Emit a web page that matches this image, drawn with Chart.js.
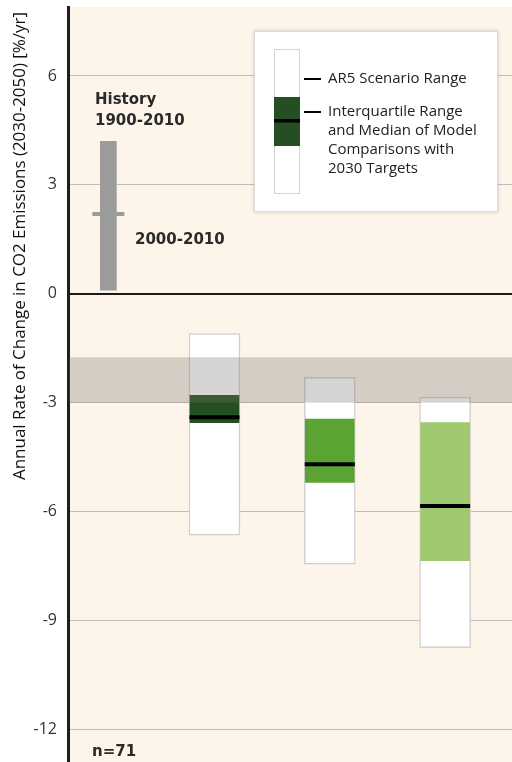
<!DOCTYPE html>
<html>
<head>
<meta charset="utf-8">
<script src="https://cdn.jsdelivr.net/npm/chart.js@4/dist/chart.umd.min.js"></script>
<style>
  html, body { margin: 0; padding: 0; background: #ffffff; }
  #c { display: block; }
</style>
</head>
<body>
<canvas id="c" width="512" height="762"></canvas>
<script>
// Annual rate of change in CO2 emissions, 2030-2050 [%/yr]

// Historical growth range 1900-2010 and the 2000-2010 rate
const historyRange = [0.1, 4.2];
const historyRecent = 2.2;

// Three groups of scenarios: full AR5 range, interquartile range and median
const groups = ['group1', 'group2', 'group3'];
const scenarioRanges = [[-6.65, -1.1], [-7.45, -2.3], [-9.75, -2.85]];
const iqrRanges = [[-3.55, -2.8], [-5.2, -3.45], [-7.35, -3.55]];
const medians = [-3.4, -4.7, -5.85];

// Shaded band across the plot
const bandRange = [-3.0, -1.75];

// Axis ticks and sample size
const yTicks = [-12, -9, -6, -3, 0, 3, 6];
const sampleSize = 71;

// ---- layout ----
const slotX = [0.35, 1.27, 2.27, 3.27];     // history, then one slot per group
const iqrColors = ['#234f22', '#5ba332', '#a0c86f'];
const CREAM = '#fdf5ea';
const FONT = '"Open Sans", "Noto Sans", sans-serif';
const BOLD = '"DejaVu Sans", sans-serif';

const plotBackground = {
  id: 'plotBackground',
  beforeDraw(chart) {
    const { ctx, chartArea: a } = chart;
    ctx.save();
    ctx.fillStyle = CREAM;
    ctx.fillRect(a.left, a.top, a.right - a.left, a.bottom - a.top);
    ctx.restore();
  }
};

const band = {
  id: 'band',
  afterDatasetsDraw(chart) {
    const { ctx, chartArea: a, scales: { y } } = chart;
    const top = y.getPixelForValue(bandRange[1]);
    const bot = y.getPixelForValue(bandRange[0]);
    ctx.save();
    ctx.fillStyle = 'rgba(120,114,108,0.30)';
    ctx.fillRect(a.left + 1, top, a.right - a.left, bot - top);
    ctx.restore();
  }
};

const annotations = {
  id: 'annotations',
  afterDraw(chart) {
    const { ctx } = chart;
    ctx.save();

    // y-axis title
    const title = 'Annual Rate of Change in CO2 Emissions (2030-2050) [%/yr]';
    ctx.font = '17px ' + FONT;
    ctx.fillStyle = '#111';
    ctx.textAlign = 'center';
    ctx.textBaseline = 'middle';
    const tw = ctx.measureText(title).width;
    ctx.translate(20, 246);
    ctx.rotate(-Math.PI / 2);
    ctx.scale(468 / tw, 1);
    ctx.fillText(title, 0, 0);
    ctx.setTransform(1, 0, 0, 1, 0, 0);

    // history labels
    ctx.font = 'bold 15px ' + BOLD;
    ctx.fillStyle = '#2a2a2a';
    ctx.textAlign = 'left';
    ctx.textBaseline = 'middle';
    ctx.fillText('History', 95, 100);
    ctx.fillText('1900-2010', 95, 121);
    ctx.fillText('2000-2010', 135, 240);
    ctx.fillText('n=' + sampleSize, 92, 752);

    // legend panel
    const lx = 254, ly = 31, lw = 244, lh = 181;
    ctx.save();
    ctx.shadowColor = 'rgba(0,0,0,0.18)';
    ctx.shadowBlur = 4;
    ctx.fillStyle = '#ffffff';
    ctx.fillRect(lx, ly, lw, lh);
    ctx.restore();
    ctx.strokeStyle = '#d9d9d9';
    ctx.lineWidth = 1;
    ctx.strokeRect(lx + 0.5, ly + 0.5, lw - 1, lh - 1);

    // legend swatch
    ctx.fillStyle = '#ffffff';
    ctx.fillRect(274, 49, 26, 145);
    ctx.strokeStyle = '#d4d4d4';
    ctx.strokeRect(274.5, 49.5, 25, 144);
    ctx.fillStyle = iqrColors[0];
    ctx.fillRect(274, 97, 26, 49);
    ctx.fillStyle = '#000';
    ctx.fillRect(274, 119, 26, 3.5);

    // legend leader dashes
    ctx.fillRect(304, 78, 17, 2);
    ctx.fillRect(304, 111, 17, 2);

    ctx.font = '15px ' + FONT;
    ctx.fillStyle = '#222';
    ctx.fillText('AR5 Scenario Range', 328, 79);
    const lines = ['Interquartile Range', 'and Median of Model', 'Comparisons with', '2030 Targets'];
    lines.forEach((t, i) => ctx.fillText(t, 328, 112 + i * 19));

    ctx.restore();
  }
};

new Chart(document.getElementById('c'), {
  type: 'bar',
  data: {
    datasets: [
      {
        type: 'scatter',
        data: medians.map((m, i) => ({ x: slotX[i + 1], y: m })),
        pointStyle: 'line',
        pointRadius: 25,
        borderColor: '#000',
        borderWidth: 4,
        order: 0
      },
      {
        type: 'scatter',
        data: [{ x: slotX[0], y: historyRecent }],
        pointStyle: 'line',
        pointRadius: 16,
        borderColor: '#9b9b9b',
        borderWidth: 4,
        order: 0
      },
      {
        data: iqrRanges.map((r, i) => ({ x: slotX[i + 1], y: r })),
        backgroundColor: iqrColors,
        barThickness: 49,
        grouped: false,
        order: 1
      },
      {
        data: scenarioRanges.map((r, i) => ({ x: slotX[i + 1], y: r })),
        backgroundColor: '#ffffff',
        borderColor: '#d0d0d0',
        borderWidth: 1.5,
        borderSkipped: false,
        barThickness: 51,
        grouped: false,
        order: 2
      },
      {
        data: [{ x: slotX[0], y: historyRange }],
        backgroundColor: '#9b9b9b',
        barThickness: 16,
        grouped: false,
        order: 2
      }
    ]
  },
  options: {
    responsive: false,
    devicePixelRatio: 1,
    animation: false,
    layout: { autoPadding: false, padding: { top: 7, left: 0, right: 0, bottom: 0 } },
    plugins: { legend: { display: false }, tooltip: { enabled: false } },
    scales: {
      x: {
        type: 'linear',
        min: 0,
        max: 3.85,
        display: false,
        offset: false
      },
      y: {
        min: -12.9,
        max: 7.9,
        afterBuildTicks(scale) { scale.ticks = yTicks.map(v => ({ value: v })); },
        afterFit(scale) {
          scale.width = 68;
          scale.paddingTop = 0;
          scale.paddingBottom = 0;
        },
        border: { display: true, color: '#1e1e1e', width: 3 },
        grid: {
          drawTicks: false,
          color: c => (c.tick && c.tick.value === 0 ? '#1a1a1a' : '#bdbdbd'),
          lineWidth: c => (c.tick && c.tick.value === 0 ? 2 : 1)
        },
        ticks: {
          padding: 11,
          color: '#333',
          font: { family: FONT, size: 16 }
        }
      }
    }
  },
  plugins: [plotBackground, band, annotations]
});
</script>
</body>
</html>
